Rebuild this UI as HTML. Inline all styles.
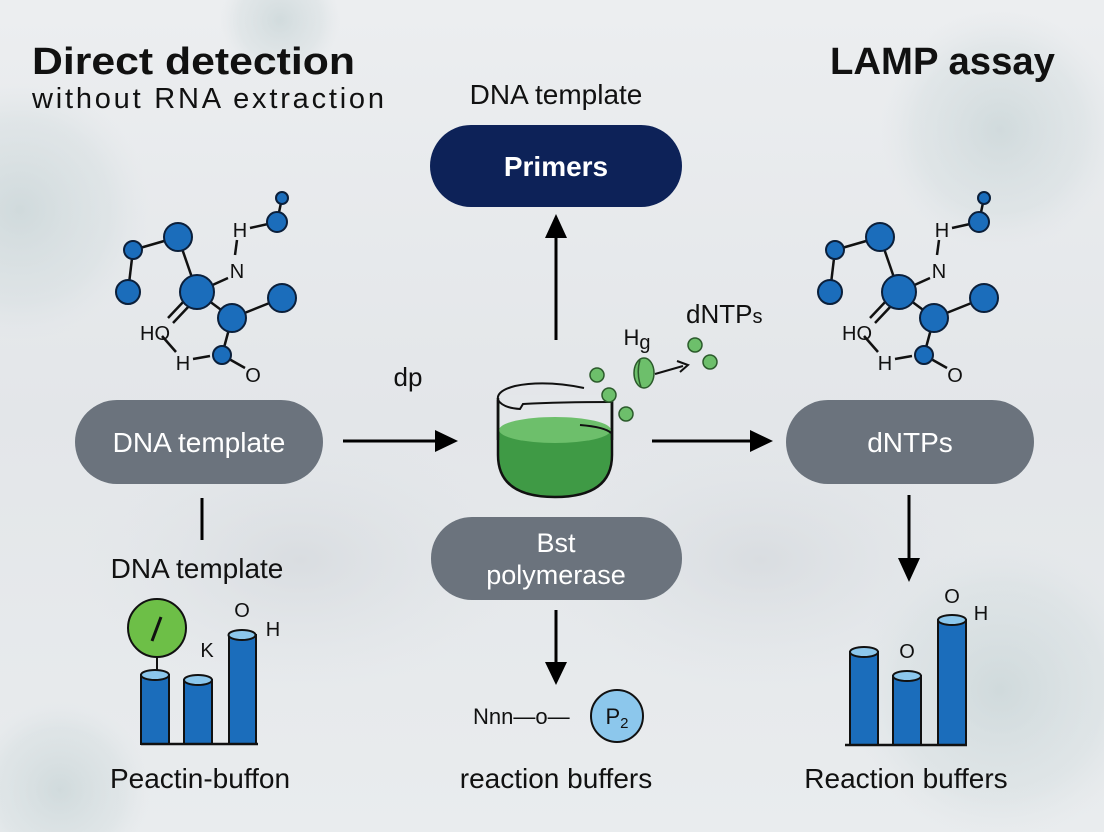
<!DOCTYPE html>
<html><head><meta charset="utf-8"><style>
html,body{margin:0;padding:0;width:1104px;height:832px;overflow:hidden}
body{background:#e6e9ec;position:relative}
svg{display:block;position:absolute;left:0;top:0}
text{font-family:"Liberation Sans",sans-serif}
</style></head><body>
<svg width="1104" height="832" viewBox="0 0 1104 832" xmlns="http://www.w3.org/2000/svg">
<defs>
<linearGradient id="bg" x1="0" y1="0" x2="0" y2="1">
<stop offset="0" stop-color="#eceef0"/><stop offset="0.5" stop-color="#e3e6e9"/><stop offset="1" stop-color="#e9ecee"/>
</linearGradient>
<radialGradient id="v" cx="0.5" cy="0.5" r="0.5">
<stop offset="0" stop-color="#c6d3d5" stop-opacity="0.7"/><stop offset="0.7" stop-color="#d2dcde" stop-opacity="0.4"/><stop offset="1" stop-color="#dde3e6" stop-opacity="0"/>
</radialGradient>
<radialGradient id="d" cx="0.5" cy="0.5" r="0.5">
<stop offset="0" stop-color="#d6dade" stop-opacity="0.8"/><stop offset="1" stop-color="#dfe3e7" stop-opacity="0"/>
</radialGradient>
</defs>
<rect width="1104" height="832" fill="url(#bg)"/>
<circle cx="20" cy="210" r="130" fill="url(#v)"/>
<circle cx="1000" cy="130" r="120" fill="url(#v)"/>
<circle cx="1000" cy="690" r="150" fill="url(#v)"/>
<circle cx="60" cy="790" r="90" fill="url(#v)"/>
<circle cx="280" cy="20" r="60" fill="url(#v)"/>
<ellipse cx="300" cy="560" rx="220" ry="130" fill="url(#d)"/>
<ellipse cx="760" cy="560" rx="220" ry="130" fill="url(#d)"/>

<!-- titles -->
<text x="32" y="74" font-size="38" font-weight="bold" fill="#111" textLength="323" lengthAdjust="spacingAndGlyphs">Direct detection</text>
<text x="32" y="108" font-size="29" fill="#111" textLength="352" lengthAdjust="spacing">without RNA extraction</text>
<text x="830" y="74" font-size="38" font-weight="bold" fill="#111" textLength="225" lengthAdjust="spacingAndGlyphs">LAMP assay</text>
<text x="556" y="104" font-size="28" fill="#111" text-anchor="middle">DNA template</text>

<!-- pills -->
<rect x="430" y="125" width="252" height="82" rx="41" fill="#0d2258"/>
<text x="556" y="176" font-size="28" font-weight="bold" fill="#fff" text-anchor="middle">Primers</text>
<rect x="75" y="400" width="248" height="84" rx="42" fill="#6b737d"/>
<text x="199" y="452" font-size="28" fill="#fff" text-anchor="middle">DNA template</text>
<rect x="786" y="400" width="248" height="84" rx="42" fill="#6b737d"/>
<text x="910" y="452" font-size="28" fill="#fff" text-anchor="middle">dNTPs</text>
<rect x="431" y="517" width="251" height="83" rx="41" fill="#6b737d"/>
<text x="556" y="552" font-size="27" fill="#fff" text-anchor="middle">Bst</text>
<text x="556" y="584" font-size="27" fill="#fff" text-anchor="middle">polymerase</text>

<!-- arrows -->
<g stroke="#000" stroke-width="3" fill="none">
<line x1="556" y1="340" x2="556" y2="220"/>
<line x1="343" y1="441" x2="440" y2="441"/>
<line x1="652" y1="441" x2="760" y2="441"/>
<line x1="556" y1="610" x2="556" y2="670"/>
<line x1="909" y1="495" x2="909" y2="565"/>
<line x1="202" y1="498" x2="202" y2="540"/>
</g>
<path d="M545,238 L556,214 L567,238 z" fill="#000"/>
<path d="M435,430 L458,441 L435,452 z" fill="#000"/>
<path d="M750,430 L773,441 L750,452 z" fill="#000"/>
<path d="M545,662 L556,685 L567,662 z" fill="#000"/>
<path d="M898,558 L909,582 L920,558 z" fill="#000"/>

<text x="408" y="386" font-size="26" fill="#111" text-anchor="middle">dp</text>

<!-- molecules -->
<g id="mol">
<g stroke="#111" stroke-width="2.5">
<line x1="282" y1="198" x2="277" y2="222"/>
<line x1="277" y1="222" x2="250" y2="228"/>
<line x1="237" y1="240" x2="235" y2="255"/>
<line x1="228" y1="278" x2="197" y2="292"/>
<line x1="197" y1="292" x2="178" y2="237"/>
<line x1="178" y1="237" x2="133" y2="250"/>
<line x1="133" y1="250" x2="128" y2="292"/>
<line x1="197" y1="292" x2="232" y2="318"/>
<line x1="232" y1="318" x2="282" y2="298"/>
<line x1="232" y1="318" x2="222" y2="355"/>
<line x1="222" y1="355" x2="245" y2="368"/>
<line x1="193" y1="359" x2="210" y2="356"/>
<line x1="162" y1="336" x2="176" y2="352"/>
<line x1="185" y1="300" x2="168" y2="318"/>
<line x1="190" y1="305" x2="173" y2="323"/>
</g>
<g fill="#1b6dbb" stroke="#0b1f3a" stroke-width="2">
<circle cx="282" cy="198" r="6"/>
<circle cx="277" cy="222" r="10"/>
<circle cx="178" cy="237" r="14"/>
<circle cx="133" cy="250" r="9"/>
<circle cx="128" cy="292" r="12"/>
<circle cx="197" cy="292" r="17"/>
<circle cx="282" cy="298" r="14"/>
<circle cx="232" cy="318" r="14"/>
<circle cx="222" cy="355" r="9"/>
</g>
<g font-size="20" fill="#111" text-anchor="middle">
<text x="240" y="237">H</text>
<text x="237" y="278">N</text>
<text x="155" y="340">HO</text>
<text x="183" y="370">H</text>
<text x="253" y="382">O</text>
</g>
</g>
<use href="#mol" x="702" y="0"/>

<!-- beaker -->
<path d="M498,400 L498,455 Q498,497 555,497 Q612,497 612,455 L612,400" fill="#3f9a45" stroke="#111" stroke-width="2.5"/>
<rect x="499.5" y="395" width="111" height="35" fill="#e4e7ea"/>
<ellipse cx="555" cy="430" rx="56" ry="13" fill="#6dbf6b"/>
<path d="M580,425 Q605,427 611,433" stroke="#111" stroke-width="2" fill="none"/>
<path d="M498,398 L498,440 M612,400 L612,440" stroke="#111" stroke-width="2.5"/>
<path d="M584,388 Q545,380 515,386 Q496,391 498,400" fill="none" stroke="#111" stroke-width="2"/>
<path d="M498,400 Q503,408 520,409 L523,404 Q560,402 612,402" fill="none" stroke="#111" stroke-width="2"/>
<g fill="#6dbf6b" stroke="#2b5a2b" stroke-width="1.5">
<circle cx="597" cy="375" r="7"/>
<circle cx="609" cy="395" r="7"/>
<circle cx="626" cy="414" r="7"/>
<circle cx="695" cy="345" r="7"/>
<circle cx="710" cy="362" r="7"/>
<ellipse cx="644" cy="373" rx="10" ry="15"/>
</g>
<path d="M640,360 Q636,373 641,387" stroke="#2b5a2b" stroke-width="1.5" fill="none"/>
<line x1="655" y1="374" x2="683" y2="366" stroke="#111" stroke-width="2"/>
<path d="M677,361 L688,365 L680,372" stroke="#111" stroke-width="2" fill="none"/>
<text x="637" y="345" font-size="22" fill="#111" text-anchor="middle">H<tspan font-size="20" dy="4">g</tspan></text>
<text x="686" y="323" font-size="26" fill="#111">dNTP<tspan font-size="20">s</tspan></text>

<!-- left lower -->
<text x="197" y="578" font-size="28" fill="#111" text-anchor="middle">DNA template</text>
<g stroke="#111" stroke-width="2">
<line x1="157" y1="657" x2="157" y2="672"/>
<rect x="141" y="675" width="28" height="69" fill="#1b6dbb"/>
<ellipse cx="155" cy="675" rx="14" ry="5" fill="#8cc7ec"/>
<rect x="184" y="680" width="28" height="64" fill="#1b6dbb"/>
<ellipse cx="198" cy="680" rx="14" ry="5" fill="#8cc7ec"/>
<rect x="229" y="635" width="27" height="109" fill="#1b6dbb"/>
<ellipse cx="242" cy="635" rx="13.5" ry="5" fill="#8cc7ec"/>
<line x1="141" y1="744" x2="258" y2="744" stroke-width="2.5"/>
<circle cx="157" cy="628" r="29" fill="#6dbf47"/>
<line x1="152" y1="641" x2="161" y2="617" stroke-width="3"/>
</g>
<g font-size="20" fill="#111" text-anchor="middle">
<text x="207" y="657">K</text>
<text x="242" y="617">O</text>
<text x="273" y="636">H</text>
</g>
<text x="200" y="788" font-size="28" fill="#111" text-anchor="middle">Peactin-buffon</text>

<!-- center lower -->
<text x="473" y="724" font-size="22" fill="#111">Nnn—o—</text>
<circle cx="617" cy="716" r="26" fill="#8cc7ec" stroke="#111" stroke-width="2"/>
<text x="617" y="724" font-size="22" fill="#111" text-anchor="middle">P<tspan font-size="15" dy="4">2</tspan></text>
<text x="556" y="788" font-size="28" fill="#111" text-anchor="middle">reaction buffers</text>

<!-- right lower -->
<g stroke="#111" stroke-width="2">
<rect x="850" y="652" width="28" height="93" fill="#1b6dbb"/>
<ellipse cx="864" cy="652" rx="14" ry="5" fill="#8cc7ec"/>
<rect x="893" y="676" width="28" height="69" fill="#1b6dbb"/>
<ellipse cx="907" cy="676" rx="14" ry="5" fill="#8cc7ec"/>
<rect x="938" y="620" width="28" height="125" fill="#1b6dbb"/>
<ellipse cx="952" cy="620" rx="14" ry="5" fill="#8cc7ec"/>
<line x1="845" y1="745" x2="967" y2="745" stroke-width="2.5"/>
</g>
<g font-size="20" fill="#111" text-anchor="middle">
<text x="907" y="658">O</text>
<text x="952" y="603">O</text>
<text x="981" y="620">H</text>
</g>
<text x="906" y="788" font-size="28" fill="#111" text-anchor="middle">Reaction buffers</text>
</svg>
</body></html>
